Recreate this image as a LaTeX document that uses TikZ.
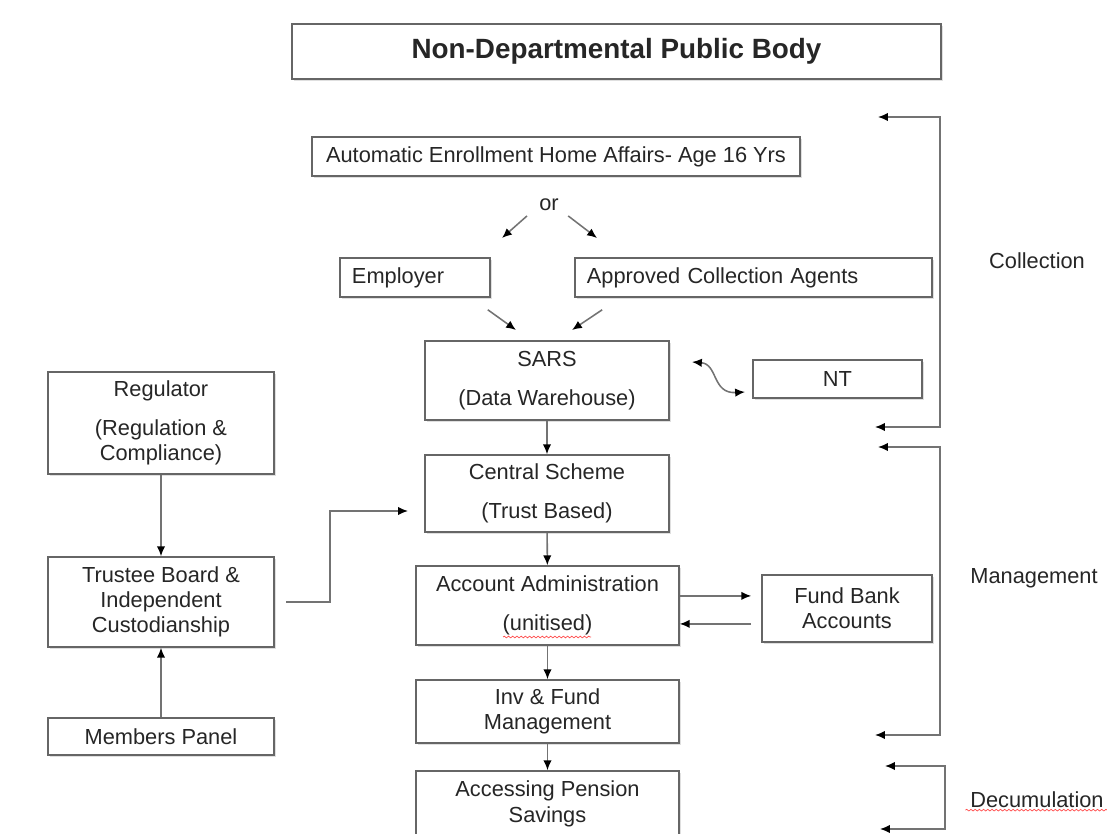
\documentclass[tikz,border=0pt]{standalone}
\usepackage{fontspec}
\setmainfont{Liberation Sans}
\usetikzlibrary{arrows.meta,shadows,decorations.pathmorphing}
\begin{document}
\begin{tikzpicture}[x=0.025cm,y=-0.025cm,
    >={Latex[length=7pt,width=6pt,color=black]},
    font=\fontsize{15.5}{18}\selectfont, text=black!85,
    box/.style={draw=black!60,line width=1.1pt,fill=white,align=center,inner sep=0pt,
        drop shadow={opacity=0.25,shadow xshift=1.5pt,shadow yshift=-1.5pt}},
    link/.style={draw=black!55,line width=1.1pt},
    squiggle/.style={red!70,line width=0.5pt,decorate,
        decoration={snake,amplitude=0.6pt,segment length=3pt}}]
    \useasboundingbox (0,0) rectangle (1107,834);

    \node[box,minimum width=16.225cm,minimum height=1.375cm,font=\fontsize{19.8}{23}\bfseries] (NDPB) at (616.5,51.5) {Non-Departmental Public Body};
    \node[box,minimum width=12.2cm,minimum height=0.975cm] (Auto) at (556,156.5) {Automatic Enrollment Home Affairs- Age 16 Yrs};
    \node (Or) at (549,205) {or};
    \node[box,align=left,text width=3.15cm,inner xsep=0.3cm,minimum height=0.975cm] (Emp) at (415,277.5) {Employer};
    \node[box,align=left,text width=8.325cm,inner xsep=0.3cm,minimum height=0.975cm] (Agents) at (753.5,277.5) {Approved Collection Agents};
    \node[box,minimum width=6.1cm,minimum height=1.975cm] (SARS) at (547,380.5) {SARS\\[10pt](Data Warehouse)};
    \node[box,minimum width=4.225cm,minimum height=0.95cm] (NT) at (837.5,379) {NT};
    \node[box,minimum width=6.1cm,minimum height=1.925cm] (Central) at (547,493.5) {Central Scheme\\[10pt](Trust Based)};
    \node[box,minimum width=6.575cm,minimum height=1.975cm] (Acct) at (547.5,605.5) {Account Administration\\[10pt](unitised)};
    \node[box,minimum width=4.25cm,minimum height=1.675cm] (Bank) at (847,608.5) {Fund Bank\\Accounts};
    \node[box,minimum width=6.575cm,minimum height=1.575cm] (Inv) at (547.5,711.5) {Inv \& Fund\\Management};
    \node[box,minimum width=6.575cm,minimum height=1.65cm] (Access) at (547.5,804) {Accessing Pension\\Savings};

    \node[box,minimum width=5.65cm,minimum height=2.55cm] (Reg) at (161,423) {Regulator\\[10pt](Regulation \&\\Compliance)};
    \node[box,minimum width=5.65cm,minimum height=2.25cm] (Trust) at (161,602) {Trustee Board \&\\Independent\\Custodianship};
    \node[box,minimum width=5.65cm,minimum height=0.925cm] (Members) at (161,736.5) {Members Panel};

    \node (Coll) at (1037,261) {Collection};
    \node (Mgmt) at (1034,578) {Management};
    \node (Decum) at (1037,800) {Decumulation};

    % free ends
    \coordinate (OrL) at (502,238);
    \coordinate (OrR) at (597,238);
    \coordinate (EmpTip) at (516,330);
    \coordinate (AgTip) at (572,330);
    \coordinate (W1) at (692,362);
    \coordinate (W2) at (745,392);
    \coordinate (TJoin) at (330,511);
    \coordinate (CIn) at (408,511);
    \coordinate (CollT) at (878,117);
    \coordinate (CollB) at (875,427);
    \coordinate (MgmtT) at (878,447);
    \coordinate (MgmtB) at (875,735);
    \coordinate (DecT) at (885,766);
    \coordinate (DecB) at (880,829);

    \draw[link,->] ([xshift=-0.55cm]Or.south) -- (OrL);
    \draw[link,->] ([xshift=0.48cm]Or.south) -- (OrR);
    \draw[link,->] ([shift={(-3,12)}]Emp.south east) -- (EmpTip);
    \draw[link,->] ([shift={(28,12)}]Agents.south west) -- (AgTip);
    \draw[link,<->] (W1) .. controls (718,364) and (712,394) .. (W2);

    \draw (SARS) edge[link,->] (Central);
    \draw (Central) edge[link,->] (Acct);
    \draw (Acct) edge[link,->] (Inv);
    \draw (Inv) edge[link,->] (Access);
    \draw (Reg) edge[link,->] (Trust);
    \draw (Members) edge[link,->] (Trust);

    \draw[link,->,shorten >=0.25cm] ([yshift=0.24cm]Acct.east) -- ([yshift=0.24cm]Acct.east -| Bank.west);
    \draw[link,->,shorten <=0.25cm] ([yshift=-0.46cm]Acct.east -| Bank.west) -- ([yshift=-0.46cm]Acct.east);
    \draw[link,->,shorten <=0.28cm] (Trust.east) -| (TJoin) -- (CIn);

    \draw[link,<->] (CollT) -- ++(62,0) |- (CollB);
    \draw[link,<->] (MgmtT) -- ++(62,0) |- (MgmtB);
    \draw[link,<->] (DecT) -- ++(60,0) |- (DecB);

    \draw[squiggle] (503,637) -- (591,637);
    \draw[squiggle] ([yshift=2pt]Decum.south west) -- ([yshift=2pt]Decum.south east);
\end{tikzpicture}
\end{document}
